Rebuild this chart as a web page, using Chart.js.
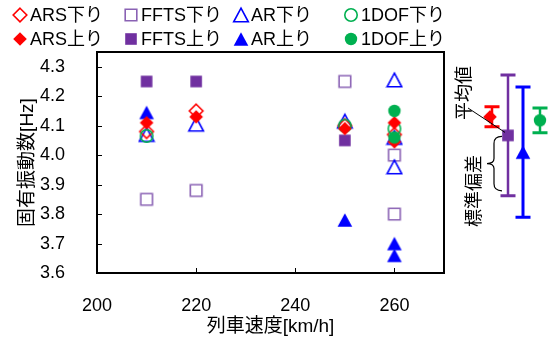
<!DOCTYPE html>
<html>
<head>
<meta charset="utf-8">
<script src="https://cdn.jsdelivr.net/npm/chart.js@4/dist/chart.umd.min.js"></script>
<style>
  html, body { margin: 0; padding: 0; background: #fff; }
  canvas { display: block; }
</style>
</head>
<body>
<canvas id="chart" width="552" height="340"></canvas>
<script>
// ---- data: natural frequency vs. train speed, per identification method ----
const speedTicks = [200, 220, 240, 260];
const freqTicks = [3.6, 3.7, 3.8, 3.9, 4.0, 4.1, 4.2, 4.3];

const arsDownSpeed = [210, 220, 250, 260];
const arsDownFreq  = [4.08, 4.15, 4.10, 4.07];
const arsUpSpeed   = [210, 220, 250, 260, 260];
const arsUpFreq    = [4.11, 4.13, 4.09, 4.11, 4.045];

const fftsDownSpeed = [210, 220, 250, 260, 260];
const fftsDownFreq  = [3.85, 3.88, 4.25, 4.00, 3.80];
const fftsUpSpeed   = [210, 220, 250];
const fftsUpFreq    = [4.25, 4.25, 4.05];

const arDownSpeed = [210, 220, 250, 260, 260, 260];
const arDownFreq  = [4.07, 4.105, 4.115, 4.255, 4.06, 3.96];
const arUpSpeed   = [210, 250, 260, 260];
const arUpFreq    = [4.145, 3.78, 3.70, 3.66];

const dofDownSpeed = [210, 250, 260];
const dofDownFreq  = [4.065, 4.10, 4.09];
const dofUpSpeed   = [260, 260];
const dofUpFreq    = [4.15, 4.06];

// summary per method: mean and standard deviation
const methodNames = ['ARS', 'FFTS', 'AR', '1DOF'];
const methodMean  = [4.13, 4.067, 4.01, 4.118];
const methodStd   = [0.034, 0.205, 0.221, 0.042];

// ---- styling ----
const FONT = '"Liberation Sans", "Noto Sans CJK JP", Arial, sans-serif';
const RED = '#FF0000', PURPLE = '#7030A0', PURPLE_LIGHT = '#8A62B4', BLUE = '#0000FF', GREEN = '#00B050';

// marker glyphs rendered once and reused by datasets, legend and summary panel
function makeMarker(shape, fill, stroke, lw) {
  const size = 18;
  const c = document.createElement('canvas');
  c.width = size; c.height = size;
  const g = c.getContext('2d');
  const m = size / 2;
  g.beginPath();
  if (shape === 'diamond') {
    const r = 6.8;
    g.moveTo(m, m - r); g.lineTo(m + r, m); g.lineTo(m, m + r); g.lineTo(m - r, m); g.closePath();
  } else if (shape === 'square') {
    const h = 5.8;
    g.rect(m - h, m - h, 2 * h, 2 * h);
  } else if (shape === 'triangle') {
    const hw = 7.3, hh = 6.8;
    g.moveTo(m, m - hh); g.lineTo(m + hw, m + hh); g.lineTo(m - hw, m + hh); g.closePath();
  } else {
    g.arc(m, m, 6.2, 0, Math.PI * 2);
  }
  if (fill) { g.fillStyle = fill; g.fill(); }
  if (stroke) { g.strokeStyle = stroke; g.lineWidth = lw || 1.5; g.lineJoin = 'miter'; g.stroke(); }
  return c;
}

const markers = {
  arsDown:  makeMarker('diamond', null, RED, 1.6),
  arsUp:    makeMarker('diamond', RED, null),
  fftsDown: makeMarker('square', null, PURPLE_LIGHT, 1.6),
  fftsUp:   makeMarker('square', PURPLE, null),
  arDown:   makeMarker('triangle', null, BLUE, 1.6),
  arUp:     makeMarker('triangle', BLUE, null),
  dofDown:  makeMarker('circle', null, GREEN, 1.6),
  dofUp:    makeMarker('circle', GREEN, null)
};

function pts(xs, ys) { return xs.map((x, i) => ({ x: x, y: ys[i] })); }

// legend order (row 1: 下り, row 2: 上り); `order` sets stacking (lower = drawn on top)
const seriesDefs = [
  { label: 'ARS下り',  data: pts(arsDownSpeed, arsDownFreq),   marker: markers.arsDown,  order: 5 },
  { label: 'FFTS下り', data: pts(fftsDownSpeed, fftsDownFreq), marker: markers.fftsDown, order: 7 },
  { label: 'AR下り',   data: pts(arDownSpeed, arDownFreq),     marker: markers.arDown,   order: 6 },
  { label: '1DOF下り', data: pts(dofDownSpeed, dofDownFreq),   marker: markers.dofDown,  order: 4 },
  { label: 'ARS上り',  data: pts(arsUpSpeed, arsUpFreq),       marker: markers.arsUp,    order: 1 },
  { label: 'FFTS上り', data: pts(fftsUpSpeed, fftsUpFreq),     marker: markers.fftsUp,   order: 3 },
  { label: 'AR上り',   data: pts(arUpSpeed, arUpFreq),         marker: markers.arUp,     order: 2 },
  { label: '1DOF上り', data: pts(dofUpSpeed, dofUpFreq),       marker: markers.dofUp,    order: 0 }
];

const datasets = seriesDefs.map(s => ({
  label: s.label,
  data: s.data,
  order: s.order,
  pointStyle: s.marker,
  pointRadius: 7,
  pointHoverRadius: 7,
  showLine: false
}));

// boxed plot frame with inward tick marks
const framePlugin = {
  id: 'frame',
  afterDatasetsDraw(chart) {
    const { ctx, chartArea: a, scales } = chart;
    ctx.save();
    ctx.strokeStyle = '#000';
    ctx.lineWidth = 1;
    const tl = 5;
    ctx.beginPath();
    scales.y.ticks.forEach(t => {
      const y = Math.round(scales.y.getPixelForValue(t.value)) + 0.5;
      ctx.moveTo(a.left, y); ctx.lineTo(a.left + tl, y);
    });
    scales.x.ticks.forEach(t => {
      const x = Math.round(scales.x.getPixelForValue(t.value)) + 0.5;
      ctx.moveTo(x, a.bottom); ctx.lineTo(x, a.bottom - tl);
    });
    ctx.stroke();
    ctx.lineWidth = 2;
    ctx.strokeRect(a.left, a.top, a.right - a.left, a.bottom - a.top);
    ctx.restore();
  }
};

// two-row legend laid out on a fixed column grid
const gridLegendPlugin = {
  id: 'gridLegend',
  afterDraw(chart, args, opts) {
    const { ctx } = chart;
    ctx.save();
    ctx.font = opts.fontSize + 'px ' + FONT;
    ctx.fillStyle = '#000';
    ctx.textAlign = 'left';
    ctx.textBaseline = 'middle';
    seriesDefs.forEach((s, i) => {
      const col = i % 4, row = Math.floor(i / 4);
      const x = opts.columns[col], y = opts.rows[row];
      ctx.drawImage(s.marker, x - s.marker.width / 2, y - s.marker.height / 2);
      ctx.fillText(s.label, x + opts.textGap, y + 1);
    });
    ctx.restore();
  }
};

// mean ± standard deviation of each method, drawn beside the plot on the same y scale
const summaryPlugin = {
  id: 'summary',
  afterDraw(chart, args, opts) {
    const { ctx, scales: { y: ys } } = chart;
    const colors = [RED, PURPLE, BLUE, GREEN];
    const meanMarkers = [markers.arsUp, markers.fftsUp, markers.arUp, markers.dofUp];
    const widths = [2.5, 2.5, 3, 2.5];
    ctx.save();
    methodNames.forEach((name, i) => {
      const x = opts.xs[i];
      const yHi = ys.getPixelForValue(methodMean[i] + methodStd[i]);
      const yLo = ys.getPixelForValue(methodMean[i] - methodStd[i]);
      const yM = ys.getPixelForValue(methodMean[i]);
      ctx.strokeStyle = colors[i];
      ctx.lineWidth = widths[i];
      ctx.beginPath();
      ctx.moveTo(x, yHi); ctx.lineTo(x, yLo);
      ctx.stroke();
      ctx.lineWidth = 3;
      ctx.beginPath();
      ctx.moveTo(x - opts.cap, yHi); ctx.lineTo(x + opts.cap, yHi);
      ctx.moveTo(x - opts.cap, yLo); ctx.lineTo(x + opts.cap, yLo);
      ctx.stroke();
      const mk = meanMarkers[i];
      ctx.drawImage(mk, x - mk.width / 2 + (opts.markerShift[i] || 0), yM - mk.height / 2);
    });

    // explanatory labels attached to the FFTS bar
    const fx = opts.xs[1];
    const fMean = ys.getPixelForValue(methodMean[1]);
    const fLow = ys.getPixelForValue(methodMean[1] - methodStd[1]);
    ctx.strokeStyle = '#000';
    ctx.lineWidth = 1;
    ctx.beginPath();
    ctx.moveTo(opts.leaderStart[0], opts.leaderStart[1]);
    ctx.lineTo(fx - 3, fMean - 3);
    ctx.stroke();

    // curly brace spanning mean .. mean - std
    const bx = fx - 14, tip = fx - 21, ex = fx - 6;
    const y0 = fMean + 1, y1 = fLow - 5, ym = (y0 + y1) / 2;
    ctx.lineWidth = 1.2;
    ctx.beginPath();
    ctx.moveTo(ex, y0);
    ctx.quadraticCurveTo(bx, y0, bx, y0 + 7);
    ctx.lineTo(bx, ym - 5);
    ctx.quadraticCurveTo(bx, ym, tip, ym);
    ctx.quadraticCurveTo(bx, ym, bx, ym + 5);
    ctx.lineTo(bx, y1 - 7);
    ctx.quadraticCurveTo(bx, y1, ex, y1);
    ctx.stroke();

    ctx.fillStyle = '#000';
    ctx.font = opts.fontSize + 'px ' + FONT;
    ctx.textAlign = 'center';
    ctx.textBaseline = 'middle';
    opts.notes.forEach(n => {
      ctx.save();
      ctx.translate(n.x, n.y);
      ctx.rotate(-Math.PI / 2);
      ctx.fillText(n.text, 0, 0);
      ctx.restore();
    });
    ctx.restore();
  }
};

const tickFont = { family: FONT, size: 18 };
const titleFont = { family: FONT, size: 19 };

new Chart(document.getElementById('chart'), {
  type: 'scatter',
  data: { datasets: datasets },
  plugins: [framePlugin, gridLegendPlugin, summaryPlugin],
  options: {
    responsive: false,
    animation: false,
    events: [],
    layout: { padding: { top: 52, right: 108, left: 0, bottom: 0 } },
    plugins: {
      legend: { display: false },
      tooltip: { enabled: false },
      gridLegend: { columns: [20, 131, 241, 351], rows: [15, 39], textGap: 10, fontSize: 18 },
      summary: {
        xs: [492, 508, 523, 540],
        markerShift: [-2, 0, 0, 0],
        cap: 7.5,
        leaderStart: [468, 108],
        fontSize: 18,
        notes: [
          { text: '平均値', x: 465, y: 93 },
          { text: '標準偏差', x: 475, y: 191 }
        ]
      }
    },
    scales: {
      x: {
        type: 'linear',
        min: 200,
        max: 270,
        afterBuildTicks: s => { s.ticks = speedTicks.map(v => ({ value: v })); },
        afterFit: s => { s.height = 67; },
        grid: { display: false },
        border: { display: false },
        ticks: { color: '#000', font: tickFont, padding: 14, maxRotation: 0 },
        title: {
          display: true,
          text: '列車速度[km/h]',
          color: '#000',
          font: titleFont,
          padding: { top: 0, bottom: 2 }
        }
      },
      y: {
        type: 'linear',
        min: 3.6,
        max: 4.35,
        afterBuildTicks: s => { s.ticks = freqTicks.map(v => ({ value: v })); },
        afterFit: s => { s.width = 97; },
        grid: { display: false },
        border: { display: false },
        ticks: { color: '#000', font: tickFont, padding: 24, callback: v => v.toFixed(1) },
        title: {
          display: true,
          text: '固有振動数[Hz]',
          color: '#000',
          font: titleFont,
          padding: { top: 16, bottom: 0 }
        }
      }
    }
  }
});
</script>
</body>
</html>
